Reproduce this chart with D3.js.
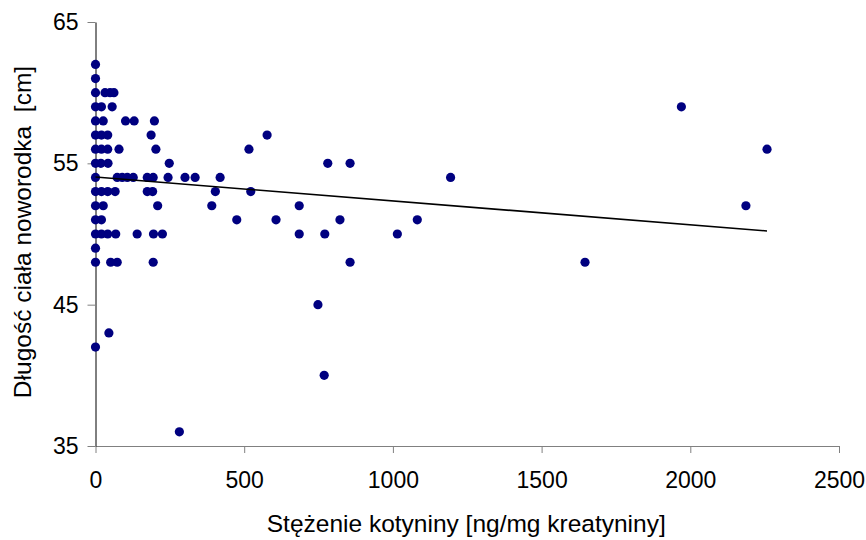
<!DOCTYPE html>
<html>
<head>
<meta charset="utf-8">
<script src="https://cdn.jsdelivr.net/npm/d3@7"></script>
<style>
  body { margin: 0; background: #fff; }
  svg text { font-family: Arial, "Liberation Sans", sans-serif; }
</style>
</head>
<body>
<div id="app"></div>
<script>
// cotinine concentration (x) and newborn length (y), one point per pair
const kotynina = [
  0,
  0,
  0, 32, 49, 62,
  0, 20, 56, 1970,
  0, 26, 101, 130, 198,
  0, 20, 41, 187, 577,
  0, 20, 41, 79, 203, 516, 2258,
  0, 18, 42, 248, 781, 856,
  0, 73, 90, 107, 127, 174, 194, 244, 301, 335, 419, 1194,
  0, 20, 41, 66, 174, 192, 403, 522,
  0, 26, 209, 391, 685, 2187,
  0, 20, 475, 607, 822, 1082,
  0, 20, 41, 68, 140, 195, 225, 685, 771, 1015,
  0,
  0, 51, 73, 194, 856, 1646,
  748,
  45,
  0,
  769,
  282
];
const dlugosc = [
  62,
  61,
  60, 60, 60, 60,
  59, 59, 59, 59,
  58, 58, 58, 58, 58,
  57, 57, 57, 57, 57,
  56, 56, 56, 56, 56, 56, 56,
  55, 55, 55, 55, 55, 55,
  54, 54, 54, 54, 54, 54, 54, 54, 54, 54, 54, 54,
  53, 53, 53, 53, 53, 53, 53, 53,
  52, 52, 52, 52, 52, 52,
  51, 51, 51, 51, 51, 51,
  50, 50, 50, 50, 50, 50, 50, 50, 50, 50,
  49,
  48, 48, 48, 48, 48, 48,
  45,
  43,
  42,
  40,
  36
];

// linear trend
const trendIntercept = 54.03;
const trendSlope = -0.00169;

const xTicks = [0, 500, 1000, 1500, 2000, 2500];
const yTicks = [35, 45, 55, 65];

const xTitle = 'Stężenie kotyniny [ng/mg kreatyniny]';
const yTitle = 'Długość ciała noworodka  [cm]';

const data = kotynina.map((k, i) => ({ x: k, y: dlugosc[i] }));

const width = 866;
const height = 540;
const margin = { top: 22, right: 27, bottom: 94, left: 95.5 };

const svg = d3.select('div#app')
  .append('svg')
  .attr('width', width)
  .attr('height', height);

const xScale = d3.scaleLinear()
  .domain([0, 2500])
  .range([margin.left, width - margin.right]);

const yScale = d3.scaleLinear()
  .domain([35, 65])
  .range([height - margin.bottom, margin.top]);

// x axis
const xAxis = svg.append('g')
  .attr('transform', `translate(0, ${yScale(35)})`)
  .call(d3.axisBottom(xScale).tickValues(xTicks).tickFormat(d3.format('d'))
    .tickSize(7).tickPadding(19).tickSizeOuter(0));
xAxis.select('.domain').attr('stroke', '#808080');
xAxis.selectAll('.tick line').attr('stroke', '#808080');
xAxis.selectAll('.tick text')
  .attr('font-size', 23)
  .attr('fill', '#000');

// y axis
const yAxis = svg.append('g')
  .attr('transform', `translate(${xScale(0)}, 0)`)
  .call(d3.axisLeft(yScale).tickValues(yTicks).tickFormat(d3.format('d'))
    .tickSize(8).tickPadding(9).tickSizeOuter(0));
yAxis.select('.domain').attr('stroke', '#000');
yAxis.selectAll('.tick line').attr('stroke', '#808080');
yAxis.selectAll('.tick text')
  .attr('font-size', 23)
  .attr('fill', '#000');

// titles
svg.append('text')
  .attr('x', (xScale(0) + xScale(2500)) / 2 - 1)
  .attr('y', 532)
  .attr('text-anchor', 'middle')
  .attr('font-size', 24.5)
  .text(xTitle);

svg.append('text')
  .attr('transform', `translate(31, 232) rotate(-90)`)
  .attr('text-anchor', 'middle')
  .attr('font-size', 24.5)
  .attr('xml:space', 'preserve')
  .style('white-space', 'pre')
  .text(yTitle);

// points
svg.append('g')
  .selectAll('circle')
  .data(data)
  .join('circle')
  .attr('cx', d => xScale(d.x))
  .attr('cy', d => yScale(d.y))
  .attr('r', 4.6)
  .attr('fill', '#000080');

// trend line over the data range
const xMax = d3.max(kotynina);
svg.append('line')
  .attr('x1', xScale(0))
  .attr('y1', yScale(trendIntercept))
  .attr('x2', xScale(xMax))
  .attr('y2', yScale(trendIntercept + trendSlope * xMax))
  .attr('stroke', '#000')
  .attr('stroke-width', 1.6);
</script>
</body>
</html>
